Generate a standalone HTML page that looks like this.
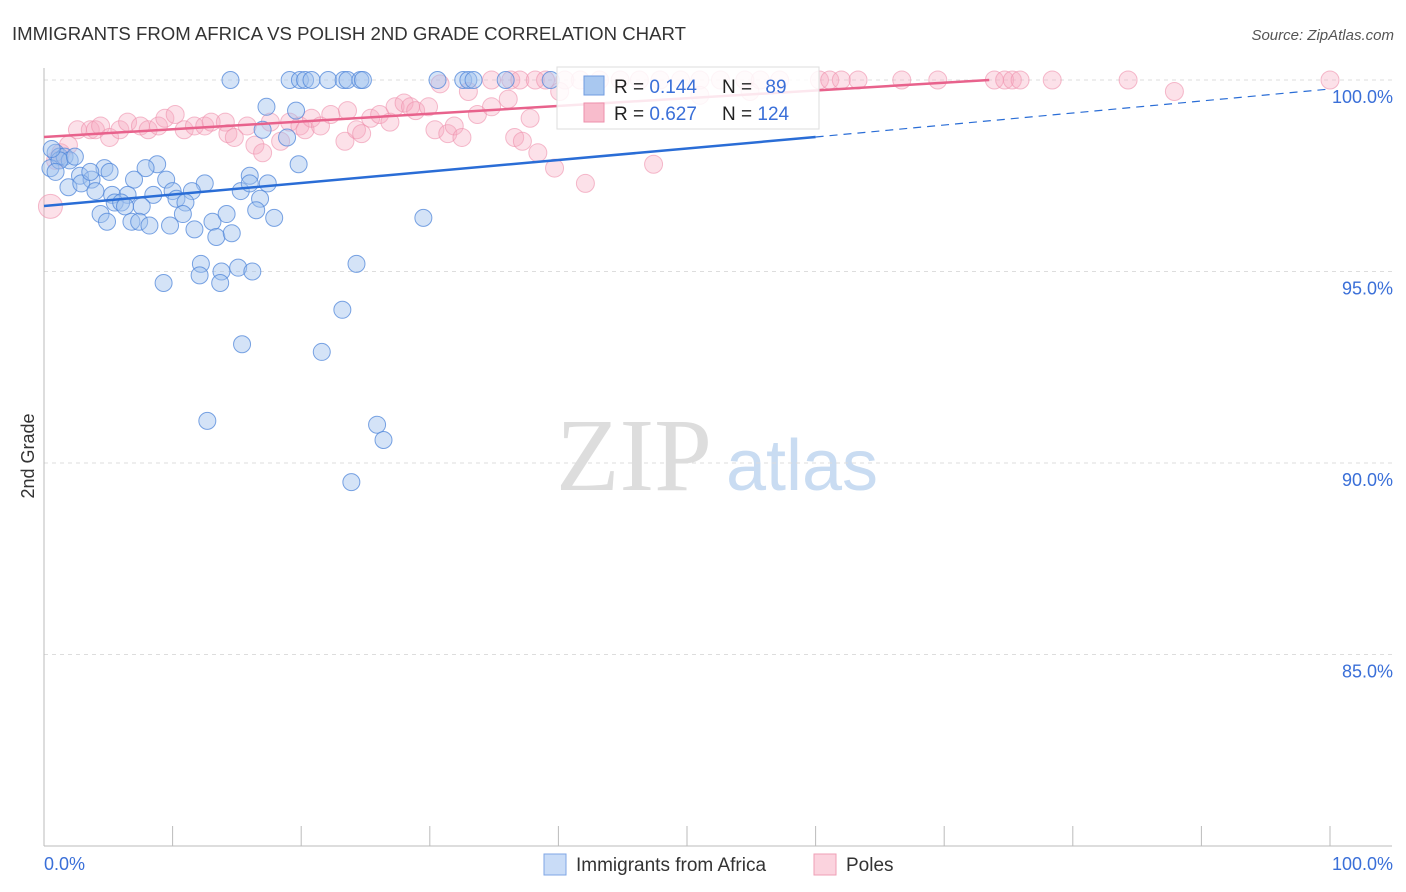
<!DOCTYPE html>
<html><head><meta charset="utf-8">
<style>
body{margin:0;background:#fff;font-family:"Liberation Sans",sans-serif;}
#wrap{position:relative;width:1406px;height:892px;overflow:hidden;}
svg text{font-family:"Liberation Sans",sans-serif;}
</style></head>
<body>
<div id="wrap">
<svg id="svg" width="1406" height="892">
<text x="12" y="40" font-size="18.6" fill="#333">IMMIGRANTS FROM AFRICA VS POLISH 2ND GRADE CORRELATION CHART</text>
<text x="1394" y="40" font-size="15" fill="#555" font-style="italic" text-anchor="end">Source: ZipAtlas.com</text>
<text x="34" y="456" font-size="18" fill="#333" transform="rotate(-90 34 456)" text-anchor="middle">2nd Grade</text>
<text x="634" y="490" font-size="104" fill="#ddd" text-anchor="middle" style="font-family:'Liberation Serif',serif">ZIP</text>
<text x="802" y="490" font-size="72" fill="#c9dcf2" text-anchor="middle">atlas</text>
<g id="grid"></g><g id="marks"></g><g id="lines"></g>
<g>
<rect x="557" y="67" width="262" height="62" fill="#fff" fill-opacity="0.85" stroke="#ddd"/>
<rect x="584" y="76" width="20" height="19" fill="#a9c8f0" stroke="#6f9be0"/>
<rect x="584" y="103" width="20" height="19" fill="#f8bccc" stroke="#ee8fab"/>
<text x="614" y="93" font-size="19" fill="#222">R = <tspan fill="#3a6fd8">0.144</tspan></text>
<text x="722" y="93" font-size="19" fill="#222">N = <tspan fill="#3a6fd8" dx="8">89</tspan></text>
<text x="614" y="120" font-size="19" fill="#222">R = <tspan fill="#3a6fd8">0.627</tspan></text>
<text x="722" y="120" font-size="19" fill="#222">N = <tspan fill="#3a6fd8">124</tspan></text>
</g>
<g>
<rect x="544" y="854" width="22" height="21" fill="#c9dcf7" stroke="#7fa6e4"/>
<text x="576" y="871" font-size="19" fill="#333">Immigrants from Africa</text>
<rect x="814" y="854" width="22" height="21" fill="#fbd3de" stroke="#ef9fb6"/>
<text x="846" y="871" font-size="19" fill="#333">Poles</text>
</g>
</svg>
</div>
<script>
const yTicks=[100,95,90,85];
const yTickLabels=["100.0%","95.0%","90.0%","85.0%"];
const xTickLabels=["0.0%","100.0%"];
const africaX=[14.5,19.1,19.9,20.3,20.8,22.1,23.3,23.6,24.6,24.8,30.6,32.6,33.0,33.4,35.9,39.4,17.3,19.6,17.0,18.9,0.9,1.2,1.6,2.0,0.5,8.8,7.9,4.7,2.8,3.7,19.8,1.9,2.9,4.0,7.0,9.5,16.0,17.4,12.5,5.3,6.5,8.5,10.0,11.5,15.3,16.8,5.5,6.0,6.3,7.6,10.3,11.0,10.8,4.4,4.9,6.8,7.4,8.2,9.8,11.7,13.1,13.4,14.2,14.6,16.5,17.9,29.5,12.2,12.1,13.8,15.1,16.2,13.7,9.3,24.3,23.2,15.4,21.6,12.7,25.9,26.4,23.9,1.2,0.9,2.4,3.6,5.1,16.0,0.6];
const africaY=[100.0,100.0,100.0,100.0,100.0,100.0,100.0,100.0,100.0,100.0,100.0,100.0,100.0,100.0,100.0,100.0,99.3,99.2,98.7,98.5,98.1,98.0,98.0,97.9,97.7,97.8,97.7,97.7,97.5,97.4,97.8,97.2,97.3,97.1,97.4,97.4,97.5,97.3,97.3,97.0,97.0,97.0,97.1,97.1,97.1,96.9,96.8,96.8,96.7,96.7,96.9,96.8,96.5,96.5,96.3,96.3,96.3,96.2,96.2,96.1,96.3,95.9,96.5,96.0,96.6,96.4,96.4,95.2,94.9,95.0,95.1,95.0,94.7,94.7,95.2,94.0,93.1,92.9,91.1,91.0,90.6,89.5,97.9,97.6,98.0,97.6,97.6,97.3,98.2];
const polesX=[34.8,36.3,37.0,38.2,39.0,40.5,41.7,43.2,44.8,46.3,47.9,49.5,51.0,52.6,54.5,55.7,57.2,60.3,61.1,62.0,63.3,66.7,69.5,73.9,74.7,75.3,75.9,78.4,84.3,100.0,0.5,0.9,1.3,1.9,2.6,3.6,4.0,4.4,5.1,5.9,6.5,7.5,8.1,8.9,9.4,10.2,10.9,11.7,12.5,13.0,14.1,14.3,14.8,15.8,16.4,17.0,17.6,18.4,19.1,19.9,20.3,20.8,21.5,22.3,23.4,23.6,24.3,24.7,25.4,26.1,26.9,27.3,28.0,28.5,28.9,29.9,30.4,30.8,31.4,31.9,32.5,33.0,33.7,34.8,36.1,36.6,37.2,37.8,38.4,39.7,42.1,47.4,87.9,51.0,54.9,40.1];
const polesY=[100.0,100.0,100.0,100.0,100.0,100.0,100.0,100.0,100.0,100.0,100.0,100.0,100.0,100.0,100.0,100.0,100.0,100.0,100.0,100.0,100.0,100.0,100.0,100.0,100.0,100.0,100.0,100.0,100.0,100.0,96.7,97.9,98.1,98.3,98.7,98.7,98.7,98.8,98.5,98.7,98.9,98.8,98.7,98.8,99.0,99.1,98.7,98.8,98.8,98.9,98.9,98.6,98.5,98.8,98.3,98.1,98.9,98.4,98.9,98.8,98.7,99.0,98.8,99.1,98.4,99.2,98.7,98.6,99.0,99.1,98.9,99.3,99.4,99.3,99.2,99.3,98.7,99.9,98.6,98.8,98.5,99.7,99.1,99.3,99.5,98.5,98.4,99.0,98.1,97.7,97.3,97.8,99.7,99.6,99.7,99.7];
const X0=44,X1=1330,Y100=80,PXPCT=38.3;
const sx=v=>X0+(X1-X0)*v/100;
const sy=v=>Y100+(100-v)*PXPCT;
const NS="http://www.w3.org/2000/svg";
function mk(tag,attrs,parent){const e=document.createElementNS(NS,tag);for(const k in attrs)e.setAttribute(k,attrs[k]);parent.appendChild(e);return e;}
const grid=document.getElementById('grid'),marks=document.getElementById('marks'),lines=document.getElementById('lines');
yTicks.forEach((t,i)=>{
 const g=mk('line',{x1:44,x2:1392,y1:sy(t),y2:sy(t),stroke:'#ddd','stroke-dasharray':'4,4'},grid);
 
 
 const tx=mk('text',{x:1393,y:sy(t)+23,'font-size':18,fill:'#3a6fd8','text-anchor':'end'},grid);
 tx.textContent=yTickLabels[i];
 
 
});
const ax=mk('line',{x1:44,x2:44,y1:68,y2:846,stroke:'#bbb'},grid);


const bx=mk('line',{x1:44,x2:1392,y1:846,y2:846,stroke:'#bbb'},grid);


for(let i=0;i<=10;i++){const t=mk('line',{x1:sx(i*10),x2:sx(i*10),y1:826,y2:846,stroke:'#bbb'},grid);
 
 }
[[44,'start'],[1393,'end']].forEach((p,i)=>{const t=mk('text',{x:p[0],y:870,'font-size':18,fill:'#3a6fd8','text-anchor':p[1]},grid);t.textContent=xTickLabels[i];
 
 });
polesX.forEach((x,i)=>{const c=mk('circle',{cx:sx(x),cy:sy(polesY[i]),r:i==30?12:9,fill:'#f7a8bf','fill-opacity':0.35,stroke:'#ef8fab','stroke-opacity':0.6},marks);
 
 });
africaX.forEach((x,i)=>{const c=mk('circle',{cx:sx(x),cy:sy(africaY[i]),r:8.5,fill:'#9fc1ee','fill-opacity':0.45,stroke:'#4f86da','stroke-opacity':0.75},marks);
 
 });
const l1=mk('line',{x1:sx(0),y1:206,x2:sx(60),y2:137,stroke:'#2a6dd6','stroke-width':2.5},lines);


const l2=mk('line',{x1:sx(60),y1:137,x2:sx(100),y2:89,stroke:'#2a6dd6','stroke-width':1.2,'stroke-dasharray':'8,6'},lines);


const l3=mk('line',{x1:sx(0),y1:137,x2:sx(73.5),y2:80,stroke:'#e8628c','stroke-width':2.5},lines);


</script>
</body></html>
